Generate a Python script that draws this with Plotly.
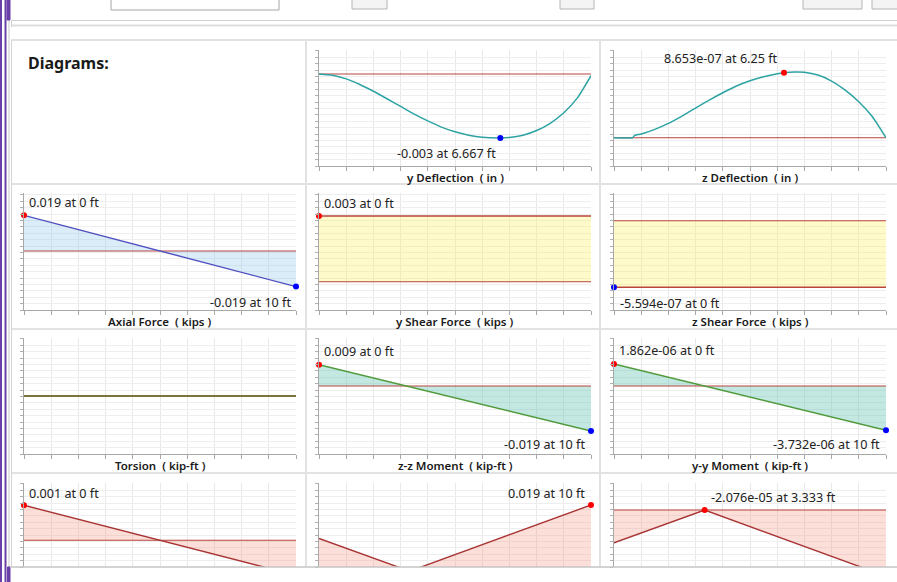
import plotly.graph_objects as go

# ---------------- member diagram values (station in ft) ----------------
ft_ydefl = [0, 0.5, 1, 1.5, 2, 2.5, 3, 3.5, 4, 4.5, 5, 5.5, 6, 6.667, 7, 7.5, 8, 8.5, 9, 9.5, 10]
ydefl_in = [0, -0.00006, -0.00023, -0.00049, -0.00081, -0.00116, -0.00152, -0.00188, -0.0022,
            -0.00249, -0.00271, -0.00287, -0.00297, -0.003, -0.00298, -0.00287, -0.00265,
            -0.00231, -0.00182, -0.00112, -0.00008]

ft_zdefl = [0, 0.68, 0.76, 1, 1.5, 2, 2.5, 3, 3.5, 4, 4.5, 5, 5.5, 6, 6.25, 6.65, 7, 7.5, 8, 8.5, 9, 9.5, 10]
zdefl_in = [0, 0, 3.1e-08, 4.9e-08, 1.11e-07, 1.91e-07, 2.88e-07, 3.95e-07, 5.01e-07, 5.99e-07,
            6.88e-07, 7.59e-07, 8.12e-07, 8.52e-07, 8.653e-07, 8.75e-07, 8.72e-07, 8.34e-07,
            7.54e-07, 6.34e-07, 4.79e-07, 2.8e-07, 0]

ft_ends = [0, 10]
axial_kips = [0.019, -0.019]
yshear_kips = [0.003, 0.003]
zshear_kips = [-5.594e-07, -5.594e-07]
torsion_kipft = [0, 0]
mzz_kipft = [0.009, -0.019]
myy_kipft = [1.862e-06, -3.732e-06]

ft_r4a = [0, 10]
r4a_vals = [0.001, -0.001]
ft_r4b = [0, 3.333, 10]
r4b_vals = [0.0094, 0, 0.019]
ft_r4c = [0, 3.333, 10]
r4c_vals = [-0.0094, -2.076e-05, -0.019]

axis_titles = ["y Deflection", "z Deflection", "Axial Force", "y Shear Force", "z Shear Force",
               "Torsion", "z-z Moment", "y-y Moment", "", "", ""]
axis_units = ["in", "in", "kips", "kips", "kips", "kip-ft", "kip-ft", "kip-ft", "", "", ""]

# ---------------- page geometry ----------------
W, H = 897, 582
COLS = [(24, 296), (319, 591), (614, 886)]
ROWS = [(50, 166), (193, 310), (338, 454), (483, 567)]


def PX(x):
    return x / W


def PY(y):
    return 1 - y / H


RED = "#b9443e"
TEAL = "#2ea3a3"
BLUE_LINE = "#4f4fbe"
GREEN = "#4f9a3a"
DARKRED = "#a83434"
F_BLUE = "rgba(150,200,240,0.33)"
F_YEL = "rgba(255,240,90,0.33)"
F_TEAL = "rgba(90,190,175,0.36)"
F_PINK = "rgba(250,150,130,0.30)"

# each panel: grid cell, y range, series, flags and value callouts
panels = [
    dict(r=0, c=1, yr=[-0.004313, 0.001125], x=ft_ydefl, y=ydefl_in, color=TEAL, fill=None,
         spline=True, zero=True,
         marks=[(6.667, -0.003, "#0000ff", "-0.003 at 6.667 ft", "right", -2, -16)]),
    dict(r=0, c=2, yr=[-3.767e-07, 1.1675e-06], x=ft_zdefl, y=zdefl_in, color=TEAL, fill=None,
         spline=True, zero=True,
         marks=[(6.25, 8.653e-07, "#ff0000", "8.653e-07 at 6.25 ft", "right", -4, 14)]),
    dict(r=1, c=0, yr=[-0.03147, 0.03093], x=ft_ends, y=axial_kips, color=BLUE_LINE, fill=F_BLUE,
         spline=False, zero=True,
         marks=[(0, 0.019, "#ff0000", "0.019 at 0 ft", "left", 3, 13),
                (10, -0.019, "#0000ff", "-0.019 at 10 ft", "right", -3, -16)]),
    dict(r=1, c=1, yr=[-0.001292, 0.00405], x=ft_ends, y=yshear_kips, color=RED, fill=F_YEL,
         spline=False, zero=True,
         marks=[(0, 0.003, "#ff0000", "0.003 at 0 ft", "left", 3, 12)]),
    dict(r=1, c=2, yr=[-7.5e-07, 2.327e-07], x=ft_ends, y=zshear_kips, color=RED, fill=F_YEL,
         spline=False, zero=True,
         marks=[(0, -5.594e-07, "#0000ff", "-5.594e-07 at 0 ft", "left", 4, -16)]),
    dict(r=2, c=0, yr=[-1, 1], x=ft_ends, y=torsion_kipft, color=GREEN, fill=None,
         spline=False, zero=True, marks=[]),
    dict(r=2, c=1, yr=[-0.02872, 0.02027], x=ft_ends, y=mzz_kipft, color=GREEN, fill=F_TEAL,
         spline=False, zero=True,
         marks=[(0, 0.009, "#ff0000", "0.009 at 0 ft", "left", 3, 13),
                (10, -0.019, "#0000ff", "-0.019 at 10 ft", "right", -4, -14)]),
    dict(r=2, c=2, yr=[-5.737e-06, 4.05e-06], x=ft_ends, y=myy_kipft, color=GREEN, fill=F_TEAL,
         spline=False, zero=True,
         marks=[(0, 1.862e-06, "#ff0000", "1.862e-06 at 0 ft", "left", 3, 13),
                (10, -3.732e-06, "#0000ff", "-3.732e-06 at 10 ft", "right", -4, -14)]),
    dict(r=3, c=0, yr=[-0.000763, 0.001637], x=ft_r4a, y=r4a_vals, color=DARKRED, fill=F_PINK,
         spline=False, zero=True,
         marks=[(0, 0.001, "#ff0000", "0.001 at 0 ft", "left", 3, 12)]),
    dict(r=3, c=1, yr=[0.001205, 0.02532], x=ft_r4b, y=r4b_vals, color=DARKRED, fill=F_PINK,
         spline=False, zero=True,
         marks=[(10, 0.019, "#ff0000", "0.019 at 10 ft", "right", -4, 12)]),
    dict(r=3, c=2, yr=[-0.01636, 0.00775], x=ft_r4c, y=r4c_vals, color=DARKRED, fill=F_PINK,
         spline=False, zero=True,
         marks=[(3.333, -2.076e-05, "#ff0000", "-2.076e-05 at 3.333 ft", "left", 4, 13)]),
]

FONT = "Segoe UI, Noto Sans, Open Sans, sans-serif"
LABEL_SIZE = 12.6

fig = go.Figure()
layout = dict(
    width=W, height=H, margin=dict(l=0, r=0, t=0, b=0),
    paper_bgcolor="white", plot_bgcolor="white", showlegend=False,
    font=dict(family=FONT, size=12, color="#222222"),
)
annotations = []
shapes = []

for i, p in enumerate(panels):
    k = i + 1
    xa, ya = f"x{k}", f"y{k}"
    c0, c1 = COLS[p["c"]]
    r0, r1 = ROWS[p["r"]]
    h_px = r1 - r0
    y_lo, y_hi = p["yr"]
    dt = (y_hi - y_lo) * 6.4 / h_px
    clipped = p["r"] == 3  # bottom row runs past the scroll viewport

    layout[f"xaxis{k}"] = dict(
        domain=[PX(c0), PX(c1)], range=[0, 10], anchor=ya,
        tickmode="linear", tick0=0, dtick=1, ticks="" if clipped else "outside", ticklen=4,
        tickcolor="#a8a8a8", showticklabels=False, showgrid=True, gridcolor="#e9e9e9",
        gridwidth=1, showline=not clipped, linecolor="#a8a8a8", linewidth=1, zeroline=False,
        fixedrange=True,
    )
    layout[f"yaxis{k}"] = dict(
        domain=[PY(r1), PY(r0)], range=[y_lo, y_hi], anchor=xa,
        tickmode="linear", tick0=y_lo, dtick=dt, ticks="outside", ticklen=3,
        tickcolor="#b0b0b0", showticklabels=False, showgrid=True, gridcolor="#eeeeee",
        gridwidth=1, showline=True, linecolor="#a8a8a8", linewidth=1, zeroline=False,
        fixedrange=True,
    )

    # filled area between the diagram and the baseline
    if p["fill"]:
        fig.add_trace(go.Scatter(x=p["x"], y=p["y"], xaxis=xa, yaxis=ya, mode="lines",
                                 line=dict(width=0), fill="tozeroy", fillcolor=p["fill"],
                                 hoverinfo="skip"))
    # baseline
    if p["zero"]:
        fig.add_trace(go.Scatter(x=[0, 10], y=[0, 0], xaxis=xa, yaxis=ya, mode="lines",
                                 line=dict(color=RED, width=2 if p["r"] == 2 and p["c"] == 0 else 1.1),
                                 hoverinfo="skip"))
    # diagram line
    fig.add_trace(go.Scatter(x=p["x"], y=p["y"], xaxis=xa, yaxis=ya, mode="lines",
                             line=dict(color=p["color"], width=1.5 if p["spline"] else 1.4,
                                       shape="spline" if p["spline"] else "linear",
                                       smoothing=0.6),
                             opacity=0.75 if (p["r"] == 2 and p["c"] == 0) else 1,
                             hoverinfo="skip"))
    # extreme-value markers and callouts
    for (mx, my, mcol, txt, anc, xs, ys) in p["marks"]:
        fig.add_trace(go.Scatter(x=[mx], y=[my], xaxis=xa, yaxis=ya, mode="markers",
                                 marker=dict(color=mcol, size=6, symbol="circle"),
                                 cliponaxis=False, hoverinfo="skip"))
        annotations.append(dict(x=mx, y=my, xref=xa, yref=ya, text=txt, showarrow=False,
                                xanchor=anc, yanchor="middle", xshift=xs, yshift=ys,
                                font=dict(family=FONT, size=LABEL_SIZE, color="#222222")))
    # axis caption
    if axis_titles[i]:
        annotations.append(dict(
            x=PX((c0 + c1) / 2), y=PY(r1 + 11), xref="paper", yref="paper",
            text=f"{axis_titles[i]}\u00a0 (\u00a0{axis_units[i]}\u00a0)", showarrow=False,
            xanchor="center", yanchor="middle",
            font=dict(family=FONT, size=11.5, color="#1a1a1a", weight=600)))

# heading of the diagrams grid
annotations.append(dict(x=PX(26), y=PY(63), xref="paper", yref="paper", text="<b>Diagrams:</b>",
                        showarrow=False, xanchor="left", yanchor="middle",
                        font=dict(family=FONT, size=16, color="#1a1a1a")))


def hline(y, x0, x1, color, w=1):
    shapes.append(dict(type="line", xref="paper", yref="paper", x0=PX(x0), x1=PX(x1),
                       y0=PY(y), y1=PY(y), line=dict(color=color, width=w), layer="below"))


def vline(x, y0, y1, color, w=1):
    shapes.append(dict(type="line", xref="paper", yref="paper", x0=PX(x), x1=PX(x),
                       y0=PY(y0), y1=PY(y1), line=dict(color=color, width=w), layer="below"))


def box(x0, y0, x1, y1, line, fill):
    shapes.append(dict(type="rect", xref="paper", yref="paper", x0=PX(x0), x1=PX(x1),
                       y0=PY(y1), y1=PY(y0), line=dict(color=line, width=1), fillcolor=fill,
                       layer="below"))


# toolbar controls along the top edge
box(111, -2, 279, 10, "#a6a6a6", "white")
box(352, -2, 387, 9, "#b4b4b4", "#f4f4f4")
box(560, -2, 594, 9, "#b4b4b4", "#f4f4f4")
box(803, -2, 862, 9, "#b4b4b4", "#f4f4f4")
box(872, -2, 900, 9, "#b4b4b4", "#f4f4f4")
hline(20.5, 11, 897, "#cfcfcf", 1)
hline(25.5, 11, 897, "#dedede", 2)
vline(11.5, 20, 27, "#cfcfcf", 1)

# cell borders of the diagrams grid
GRID = "#e2e2e2"
hline(40, 11, 897, GRID, 2)
for yb in (184, 329, 473):
    hline(yb, 11, 897, GRID, 2)
for xb in (306, 600):
    vline(xb, 40, 567, GRID, 2)
vline(11.5, 40, 567, "#d6d6d6", 1)

# window frame on the left
PURPLE = "#6a40a8"
vline(1, 0, 582, PURPLE, 2)
vline(5.5, 0, 582, PURPLE, 2)
vline(9, 20, 567, "#c9c9c9", 1)
box(7, -2, 10, 20, PURPLE, PURPLE)
box(7.5, 567, 10, 584, PURPLE, PURPLE)

layout["annotations"] = annotations
layout["shapes"] = shapes
fig.update_layout(**layout)

# lower edge of the scroll viewport, drawn above the plots
fig.add_shape(type="line", xref="paper", yref="paper", x0=PX(10), x1=PX(897),
              y0=PY(567), y1=PY(567), line=dict(color="#c4c4c4", width=1.5), layer="above")

fig.write_html("out.html")
